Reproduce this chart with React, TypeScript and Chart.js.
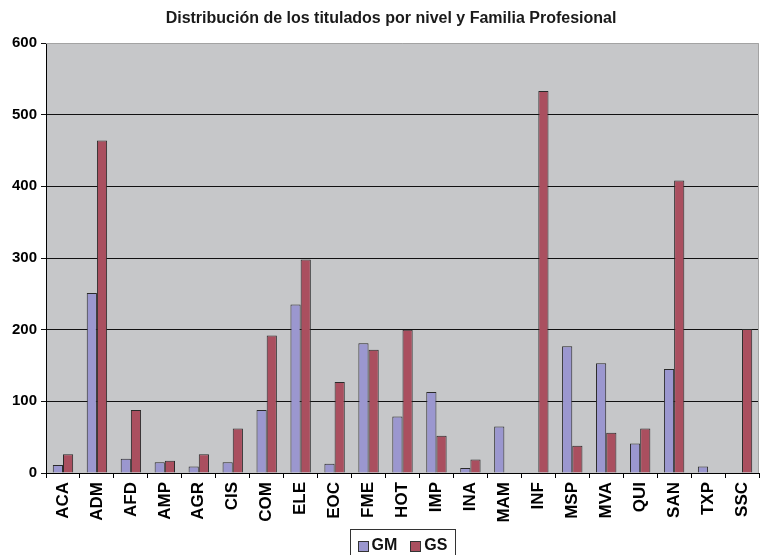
import { useEffect, useRef } from "react";
import { Chart, registerables } from "chart.js";

Chart.register(...registerables);

const TITLE = "Distribución de los titulados por nivel y Familia Profesional";
const categories = ["ACA", "ADM", "AFD", "AMP", "AGR", "CIS", "COM", "ELE", "EOC", "FME", "HOT", "IMP", "INA", "MAM", "INF", "MSP", "MVA", "QUI", "SAN", "TXP", "SSC"];
const seriesNames = ["GM", "GS"];
const gmValues = [11, 251, 20, 15, 9, 15, 88, 235, 13, 181, 79, 113, 7, 65, 0, 177, 153, 41, 145, 9, 0];
const gsValues = [26, 464, 88, 17, 26, 62, 192, 298, 127, 172, 200, 52, 19, 0, 533, 38, 56, 62, 408, 0, 201];
const yTicks = [0, 100, 200, 300, 400, 500, 600];

const FONT = '"Liberation Sans", Arial, Helvetica, sans-serif';
const GM_COLOR = "#9B97CF";
const GS_COLOR = "#AA4F5F";
const PLOT_BG = "#C6C7C9";

const decoPlugin = {
  id: "deco",
  beforeDraw(chart: any) {
    const { ctx, chartArea: a } = chart;
    ctx.save();
    ctx.fillStyle = PLOT_BG;
    ctx.fillRect(a.left, a.top, a.right - a.left, a.bottom - a.top);
    ctx.restore();
  },
  afterDraw(chart: any) {
    const { ctx, chartArea: a } = chart;
    ctx.save();
    // top & right plot border
    ctx.strokeStyle = "#a3a3a3";
    ctx.lineWidth = 1;
    ctx.beginPath();
    ctx.moveTo(a.left, a.top + 0.5);
    ctx.lineTo(a.right - 0.5, a.top + 0.5);
    ctx.lineTo(a.right - 0.5, a.bottom);
    ctx.stroke();

    // title
    ctx.font = `bold 16px ${FONT}`;
    ctx.fillStyle = "#1a1a1a";
    ctx.textAlign = "center";
    ctx.textBaseline = "middle";
    ctx.fillText(TITLE, 391, 19);

    // legend
    const datasets = chart.data.datasets;
    ctx.font = `bold 16px ${FONT}`;
    const box = 10;
    const gap = 4;
    const itemGap = 13;
    const widths = datasets.map((d: any) => box + gap + ctx.measureText(d.label).width);
    const total = widths.reduce((s: number, w: number) => s + w, 0) + itemGap * (datasets.length - 1);
    const cx = (a.left + a.right) / 2;
    const frameW = 105;
    const frameLeft = Math.round(cx - frameW / 2) + 0.5;
    const frameTop = 529.5;
    ctx.strokeStyle = "#333";
    ctx.lineWidth = 1;
    ctx.strokeRect(frameLeft, frameTop, frameW, 40);
    let x = cx - total / 2;
    const cy = 546;
    ctx.textAlign = "left";
    datasets.forEach((d: any, i: number) => {
      ctx.fillStyle = d.backgroundColor;
      ctx.fillRect(Math.round(x) + 0.5, cy - 5 + 0.5, box, box);
      ctx.strokeStyle = "#333";
      ctx.strokeRect(Math.round(x) + 0.5, cy - 5 + 0.5, box, box);
      ctx.fillStyle = "#111";
      ctx.fillText(d.label, x + box + gap, cy);
      x += widths[i] + itemGap;
    });
    ctx.restore();
  },
};

export default function App() {
  const ref = useRef<HTMLCanvasElement | null>(null);

  useEffect(() => {
    if (!ref.current) return;
    const chart = new Chart(ref.current, {
      type: "bar",
      data: {
        labels: categories,
        datasets: [
          {
            label: seriesNames[0],
            data: gmValues,
            backgroundColor: GM_COLOR,
            borderColor: "#2a2a2a",
            borderWidth: 1,
            categoryPercentage: 0.6,
            barPercentage: 1,
          },
          {
            label: seriesNames[1],
            data: gsValues,
            backgroundColor: GS_COLOR,
            borderColor: "#2a2a2a",
            borderWidth: 1,
            categoryPercentage: 0.6,
            barPercentage: 1,
          },
        ],
      },
      options: {
        animation: false,
        responsive: true,
        maintainAspectRatio: false,
        layout: { padding: { top: 43, right: 1, bottom: 0, left: 0 } },
        plugins: {
          legend: { display: false },
          title: { display: false },
          tooltip: { enabled: false },
        },
        scales: {
          x: {
            grid: {
              display: true,
              drawOnChartArea: false,
              drawTicks: true,
              tickLength: 5,
              color: "#000",
              offset: true,
            },
            border: { display: true, color: "#000", width: 1 },
            ticks: {
              autoSkip: false,
              maxRotation: 90,
              minRotation: 90,
              padding: 4,
              color: "#000",
              font: { family: FONT, size: 17, weight: "bold" },
            },
            afterFit: (s: any) => {
              s.height = 82;
              s.paddingLeft = 0;
              s.paddingRight = 0;
            },
          },
          y: {
            min: yTicks[0],
            max: yTicks[yTicks.length - 1],
            ticks: {
              stepSize: yTicks[1] - yTicks[0],
              padding: 4,
              color: "#000",
              font: { family: FONT, size: 15, weight: "bold" },
            },
            grid: {
              color: (c: any) => (c.tick && c.tick.value === yTicks[yTicks.length - 1] ? "rgba(0,0,0,0)" : "#111"),
              tickColor: "#111",
              tickLength: 5,
              lineWidth: 1,
            },
            border: { display: true, color: "#000", width: 1 },
            afterFit: (s: any) => {
              s.width = 46;
              s.paddingTop = 0;
              s.paddingBottom = 0;
            },
          },
        },
      },
      plugins: [decoPlugin],
    });
    return () => chart.destroy();
  }, []);

  return (
    <div style={{ position: "absolute", left: 0, top: 0, width: 760, height: 555, background: "#fff" }}>
      <canvas ref={ref} />
    </div>
  );
}
